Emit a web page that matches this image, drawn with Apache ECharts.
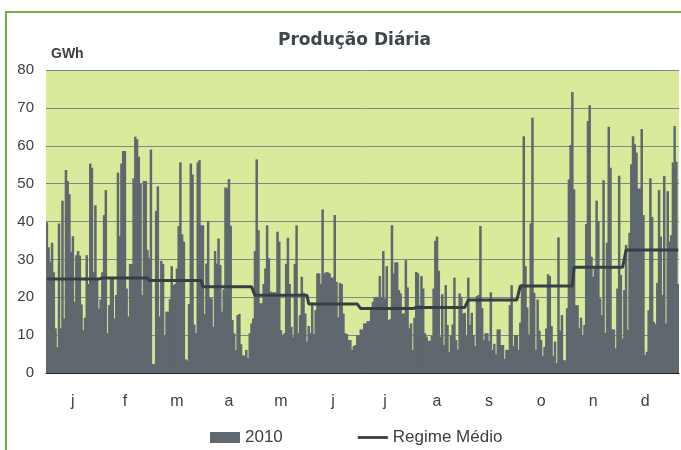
<!DOCTYPE html>
<html>
<head>
<meta charset="utf-8">
<script src="https://cdn.jsdelivr.net/npm/echarts@6/dist/echarts.min.js"></script>
<style>
  html, body { margin: 0; padding: 0; background: #fff; }
  #frame { position: absolute; left: 5px; top: 11px; width: 676px; height: 439px;
           border-left: 2px solid #6cb33f; border-top: 2px solid #6cb33f; }
  #chart { position: absolute; left: 0; top: 0; width: 681px; height: 450px; }
</style>
</head>
<body>
<div id="frame"></div>
<div id="chart"></div>
<script>
// daily production 2010 (GWh), one array per month
var jan = [39.8, 33.2, 29.4, 34.4, 26.6, 11.8, 6.8, 39.5, 11.8, 45.5, 14.4, 53.6, 50.7, 47.2, 32.0, 36.1, 18.8, 31.1, 32.2, 31.0, 18.1, 11.3, 14.6, 31.1, 23.5, 55.3, 54.2, 26.7, 44.3, 25.0, 17.0];
var feb = [19.4, 26.6, 41.7, 48.3, 10.5, 17.9, 25.4, 25.0, 14.4, 20.6, 52.9, 36.1, 55.3, 58.6, 58.6, 22.3, 14.9, 28.8, 28.8, 51.4, 62.4, 61.7, 57.1, 50.0, 20.6, 50.7, 50.7, 32.5];
var mar = [30.3, 59.0, 2.4, 2.4, 42.8, 49.3, 14.9, 29.6, 28.8, 10.0, 16.2, 16.2, 19.5, 28.2, 23.2, 23.5, 27.6, 38.8, 55.6, 36.6, 34.7, 3.6, 3.3, 18.2, 55.3, 52.4, 12.8, 10.5, 55.6, 56.2, 39.0];
var apr = [39.0, 15.6, 28.9, 40.1, 20.0, 19.7, 12.2, 32.2, 28.9, 35.5, 28.5, 16.2, 22.1, 49.0, 48.7, 51.2, 38.9, 14.0, 10.5, 6.1, 15.3, 15.6, 7.6, 4.7, 4.5, 6.1, 3.9, 10.5, 13.1, 14.4];
var may = [32.2, 56.4, 37.7, 18.4, 18.4, 23.5, 27.6, 39.0, 30.3, 21.5, 21.3, 21.3, 21.3, 37.3, 34.7, 11.3, 10.0, 10.5, 28.8, 35.7, 23.5, 12.2, 9.6, 28.8, 39.0, 10.5, 15.3, 25.4, 21.2, 15.7, 8.3];
var jun = [12.4, 10.5, 18.6, 10.3, 16.6, 26.3, 26.3, 23.5, 43.2, 26.3, 26.6, 26.6, 26.3, 25.2, 25.2, 41.7, 24.1, 14.7, 23.8, 23.5, 15.7, 10.5, 10.3, 8.7, 8.7, 6.1, 7.1, 7.4, 10.0, 9.8];
var jul = [11.5, 11.5, 13.1, 13.1, 13.7, 13.7, 16.6, 18.8, 19.9, 20.1, 20.0, 25.6, 20.0, 32.2, 19.7, 28.2, 14.0, 14.2, 39.0, 26.3, 29.2, 29.2, 21.9, 21.0, 15.7, 15.7, 29.8, 22.6, 11.8, 13.1, 6.1];
var aug = [14.6, 26.7, 26.3, 17.9, 25.6, 22.3, 10.5, 9.6, 8.5, 8.5, 9.8, 22.3, 34.9, 36.0, 27.0, 9.6, 20.8, 7.4, 23.2, 12.7, 5.6, 10.0, 12.8, 25.2, 8.7, 6.2, 21.0, 20.1, 15.7, 15.9, 10.0];
var sep = [25.2, 12.7, 15.9, 10.0, 7.1, 20.3, 20.6, 38.8, 17.1, 8.7, 10.5, 10.5, 8.4, 21.3, 6.1, 7.7, 5.0, 11.5, 11.5, 7.4, 7.4, 3.7, 6.1, 6.1, 17.9, 23.2, 7.1, 10.0, 10.0, 6.1];
var oct = [13.3, 23.5, 62.5, 28.2, 17.3, 10.2, 39.5, 67.4, 21.2, 6.1, 19.4, 11.2, 8.7, 4.5, 6.9, 11.8, 26.1, 25.6, 12.4, 4.5, 8.3, 2.6, 35.8, 11.2, 15.3, 3.4, 3.3, 17.1, 51.1, 60.2, 74.2];
var nov = [48.5, 17.9, 17.9, 11.8, 14.6, 10.0, 12.7, 39.3, 66.5, 70.7, 30.7, 25.4, 27.9, 45.5, 40.1, 19.7, 15.3, 50.9, 10.6, 34.4, 65.0, 54.2, 11.5, 11.5, 6.5, 22.3, 52.1, 25.9, 9.1, 21.9];
var dec = [33.8, 11.3, 37.0, 55.1, 62.5, 60.4, 58.2, 48.7, 48.7, 64.4, 41.7, 4.7, 5.6, 16.6, 51.4, 41.2, 13.5, 12.9, 23.8, 48.3, 36.0, 20.6, 52.0, 13.1, 48.0, 34.7, 36.4, 55.6, 65.2, 55.8, 23.5];

// monthly average regime (GWh)
var regimeMedio = [24.8, 25.1, 24.4, 22.8, 20.5, 18.2, 17.0, 17.3, 19.3, 23.0, 27.9, 32.5];
var monthLetters = ['j', 'f', 'm', 'a', 'm', 'j', 'j', 'a', 's', 'o', 'n', 'd'];

var months = [jan, feb, mar, apr, may, jun, jul, aug, sep, oct, nov, dec];
var producao = [];
var regime = [];
months.forEach(function (m, i) {
    m.forEach(function (v) {
        producao.push(v);
        regime.push(regimeMedio[i]);
    });
});
var days = producao.map(function (v, i) { return String(i + 1); });

var txt = '#3a3f44';
var barColor = '#5e686e';
var font = "'Liberation Sans', Arial, sans-serif";

var chart = echarts.init(document.getElementById('chart'));
chart.setOption({
    animation: false,
    textStyle: {fontFamily: font},
    title: {
        text: 'Produção Diária', left: 273, top: 27,
        textStyle: {fontFamily: "'DejaVu Sans', sans-serif", fontSize: 17, fontWeight: 'bold', color: '#3d464d'}
    },
    legend: {
        top: 429, left: 210, padding: 0, itemGap: 75, itemWidth: 30, itemHeight: 11,
        textStyle: {fontSize: 17, color: txt, fontFamily: font},
        data: [
            {name: '2010', icon: 'rect'},
            {name: 'Regime Médio', icon: 'path://M0,0 L32,0 L32,3 L0,3 Z'}
        ]
    },
    grid: {left: 46, right: 2, top: 70, bottom: 77, show: true, backgroundColor: '#d9ea9b', borderWidth: 0},
    xAxis: {
        type: 'category', data: days, boundaryGap: true,
        axisLine: {lineStyle: {color: '#222', width: 1}},
        axisTick: {length: 5, lineStyle: {color: '#222'}, interval: function (i) { return i % 30 === 0; }},
        axisLabel: {
            interval: function (i) { return i % 30 === 15; },
            formatter: function (v, i) { return monthLetters[Math.floor(i / 30)]; },
            color: txt, fontSize: 16, margin: 21
        }
    },
    yAxis: {
        type: 'value', min: 0, max: 80, interval: 10,
        name: 'GWh', nameLocation: 'end', nameGap: 9,
        nameTextStyle: {align: 'left', color: txt, fontSize: 14, fontWeight: 'bold', padding: [0, 0, 0, 5]},
        axisLine: {show: false}, axisTick: {show: false},
        axisLabel: {color: txt, fontSize: 15, margin: 12},
        splitLine: {lineStyle: {color: '#80878a', width: 1}}
    },
    series: [
        {name: '2010', type: 'bar', data: producao, barWidth: 2.5, itemStyle: {color: barColor}},
        {name: 'Regime Médio', type: 'line', data: regime, symbol: 'none', lineStyle: {color: '#343f46', width: 3}, itemStyle: {color: '#343f46'}}
    ]
});
</script>
</body>
</html>
